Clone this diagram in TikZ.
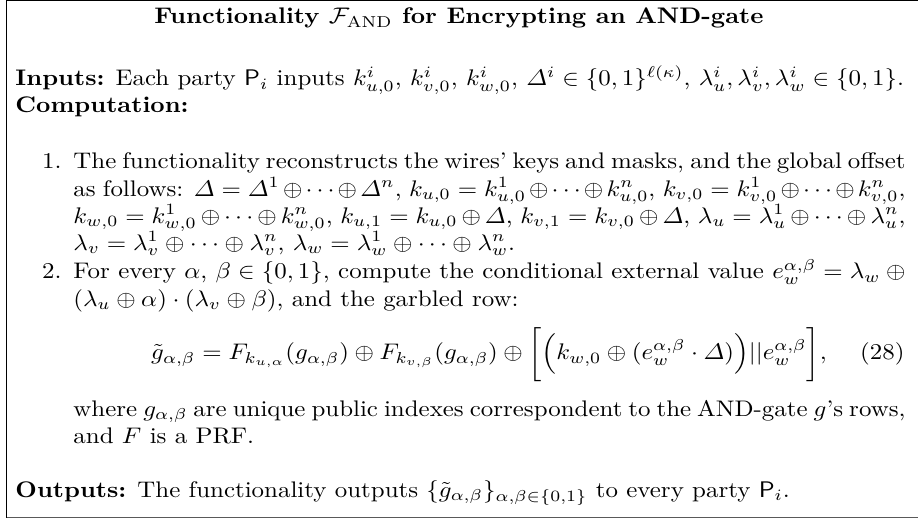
\documentclass[tikz,border=0pt]{standalone}
\usepackage{amsmath}
\usepackage{amssymb}
\usepackage{xcolor}
\usepackage{tikz}
\usetikzlibrary{positioning}

% one unit of the picture
\newlength\pxu
\setlength\pxu{0.5455pt}
\newcommand{\Pty}{\mathsf{P}}
\newcommand{\steptext}[1]{\parbox[t]{611.8\pxu}{#1}}

\tikzset{
  plain/.style={anchor=base west, inner sep=0pt, xscale=1.36, yscale=1.23},
  itemno/.style={anchor=base east, inner sep=0pt, xscale=1.36, yscale=1.23},
}

\begin{document}
\begin{tikzpicture}[x=\pxu,y=-\pxu]
\useasboundingbox (0,0) rectangle (918,523);
% frame of the box
\begin{scope}
  \clip (0,0) rectangle (918,523);
  \draw[line width=1.2\pxu] (930,0.6) -- (6.6,0.6) -- (6.6,517.6);
  \draw[line width=1.6\pxu, black!65] (6.6,517.6) -- (930,517.6);
\end{scope}

\node (title) [plain, anchor=base] at (459,24)
  {\textbf{Functionality $\mathcal{F}_{\mathrm{AND}}$ for Encrypting an AND-gate}};
\node (inputs) [plain] at (15,86)
  {\textbf{Inputs:} Each party $\Pty_i$ inputs $k^i_{u,0}$, $k^i_{v,0}$, $k^i_{w,0}$,
   $\varDelta^i\in\{0,1\}^{\ell(\kappa)}$, $\lambda^i_u,\lambda^i_v,\lambda^i_w\in\{0,1\}$.};
\node (comp) [plain] at (15,113) {\textbf{Computation:}};

\node (no1) [itemno] at (62,169) {1.};
\node (step1) [plain] at (73,169) {\steptext{The functionality reconstructs the wires' keys
  and masks, and the global offset\linebreak as follows:
  $\varDelta=\varDelta^1\oplus\cdots\oplus\varDelta^n$,
  $k_{u,0}=k^1_{u,0}\oplus\cdots\oplus k^n_{u,0}$,
  $k_{v,0}=k^1_{v,0}\oplus\cdots\oplus k^n_{v,0}$,\linebreak
  $k_{w,0}=k^1_{w,0}\oplus\cdots\oplus k^n_{w,0}$,
  $k_{u,1}=k_{u,0}\oplus\varDelta$, $k_{v,1}=k_{v,0}\oplus\varDelta$,
  $\lambda_u=\lambda^1_u\oplus\cdots\oplus\lambda^n_u$,\linebreak
  $\lambda_v=\lambda^1_v\oplus\cdots\oplus\lambda^n_v$,
  $\lambda_w=\lambda^1_w\oplus\cdots\oplus\lambda^n_w$.}};

\node (no2) [itemno] at (62,279) {2.};
\node (step2) [plain] at (73,279) {\steptext{For every $\alpha$, $\beta\in\{0,1\}$, compute
  the conditional external value
  $e^{\alpha,\beta}_w=\lambda_w\oplus\linebreak(\lambda_u\oplus\alpha)\cdot(\lambda_v\oplus\beta)$,
  and the garbled row:}};

% garbled row
\node (row) [plain, anchor=base] at (489,360)
  {$\displaystyle \tilde{g}_{\alpha,\beta}=F_{k_{u,\alpha}}(g_{\alpha,\beta})\oplus
   F_{k_{v,\beta}}(g_{\alpha,\beta})\oplus\biggl[\Bigl(k_{w,0}\oplus
   (e^{\alpha,\beta}_w\cdot\varDelta)\Bigr)||e^{\alpha,\beta}_w\biggr],$};
\node (eqno) [itemno] at (905,360) {(28)};

\node (note) [plain] at (73,416) {\steptext{where $g_{\alpha,\beta}$ are unique public
  indexes correspondent to the AND-gate $g$'s rows,\linebreak and $F$ is a PRF.}};

\node (outputs) [plain] at (15,497)
  {\textbf{Outputs:} The functionality outputs
   $\{\tilde{g}_{\alpha,\beta}\}_{\alpha,\beta\in\{0,1\}}$ to every party $\Pty_i$.};
\end{tikzpicture}
\end{document}
